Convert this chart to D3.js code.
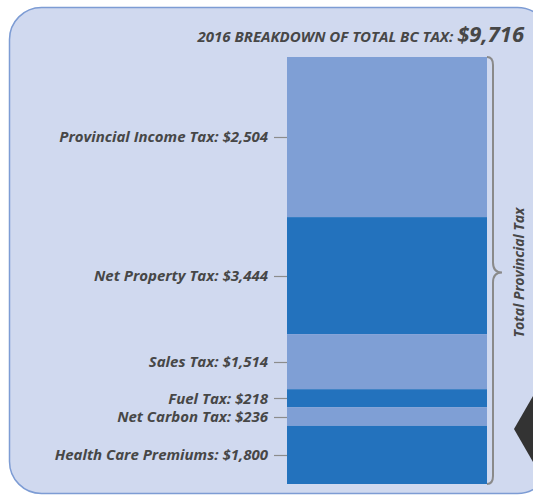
<!DOCTYPE html>
<html>
<head>
<meta charset="utf-8">
<script src="https://cdn.jsdelivr.net/npm/d3@7"></script>
<style>
  body { margin: 0; background: #ffffff; }
  svg { display: block; }
  text { font-family: "Open Sans", Lato, sans-serif; font-weight: bold; font-style: italic; fill: #474747; }
</style>
</head>
<body>
<svg id="chart"></svg>
<script>
// tax components, top to bottom
const categories = ["Provincial Income Tax", "Net Property Tax", "Sales Tax", "Fuel Tax", "Net Carbon Tax", "Health Care Premiums"]
const amounts = [2504, 3444, 1514, 218, 236, 1800]
// share of the bar each piece takes in the source graphic (not drawn to scale there)
const barShare = [37.5, 27.4, 12.9, 4.2, 4.4, 13.6]
const colors = ["#7f9fd5", "#2372bd", "#7f9fd5", "#2372bd", "#7f9fd5", "#2372bd"]
const titleText = "2016 BREAKDOWN OF TOTAL BC TAX: "
const totalLabel = "Total Provincial Tax"

const width = 533, height = 497
const fmt = d3.format("$,")
const total = d3.sum(amounts)

const svg = d3.select("#chart").attr("width", width).attr("height", height)

// panel
svg.append("rect")
  .attr("x", 9.5).attr("y", 7.5)
  .attr("width", 540).attr("height", 486)
  .attr("rx", 32).attr("ry", 32)
  .attr("fill", "#d0d9ef")
  .attr("stroke", "#7d9cd4")
  .attr("stroke-width", 1.5)

// title
const title = svg.append("text")
  .attr("x", 524).attr("y", 42)
  .attr("text-anchor", "end")
title.append("tspan").attr("font-size", 15).text(titleText)
title.append("tspan").attr("font-size", 22).text(fmt(total))

const bar = { x0: 287, x1: 487, top: 57, bottom: 484 }

const y = d3.scaleLinear()
  .domain([0, d3.sum(barShare)])
  .range([bar.top, bar.bottom])

let acc = 0
const segs = categories.map((c, i) => {
  const s = { name: c, amount: amounts[i], color: colors[i], y0: acc, y1: acc + barShare[i] }
  acc += barShare[i]
  return s
})

const g = svg.selectAll(".seg")
  .data(segs)
  .enter()
  .append("g")
  .attr("class", "seg")

g.append("rect")
  .attr("x", bar.x0)
  .attr("width", bar.x1 - bar.x0)
  .attr("y", d => y(d.y0))
  .attr("height", d => y(d.y1) - y(d.y0))
  .attr("fill", d => d.color)

g.append("line")
  .attr("x1", 274).attr("x2", bar.x0)
  .attr("y1", d => Math.round((y(d.y0) + y(d.y1)) / 2) + 0.5)
  .attr("y2", d => Math.round((y(d.y0) + y(d.y1)) / 2) + 0.5)
  .attr("stroke", "#8c8c8c")
  .attr("stroke-width", 1.2)

g.append("text")
  .attr("x", 268)
  .attr("y", d => (y(d.y0) + y(d.y1)) / 2)
  .attr("dy", "0.36em")
  .attr("font-size", 15)
  .attr("text-anchor", "end")
  .text(d => `${d.name}: ${fmt(d.amount)}`)

// brace on the right side of the bar
const bx = 493, tip = 502, mid = (bar.top + bar.bottom) / 2 + 2
const brace = d3.path()
brace.moveTo(bx - 6, bar.top)
brace.quadraticCurveTo(bx, bar.top, bx, bar.top + 8)
brace.lineTo(bx, mid - 10)
brace.quadraticCurveTo(bx, mid, tip, mid)
brace.quadraticCurveTo(bx, mid, bx, mid + 10)
brace.lineTo(bx, bar.bottom - 8)
brace.quadraticCurveTo(bx, bar.bottom, bx - 6, bar.bottom)
svg.append("path")
  .attr("d", brace.toString())
  .attr("fill", "none")
  .attr("stroke", "#8a8a8a")
  .attr("stroke-width", 2)

svg.append("text")
  .attr("transform", `translate(524, ${mid}) rotate(-90)`)
  .attr("text-anchor", "middle")
  .attr("font-size", 14)
  .text(totalLabel)

// pointer arrow at the right edge
svg.append("path")
  .attr("d", "M514,429L533,396L540,396L540,462L533,462Z")
  .attr("fill", "#333333")
</script>
</body>
</html>
